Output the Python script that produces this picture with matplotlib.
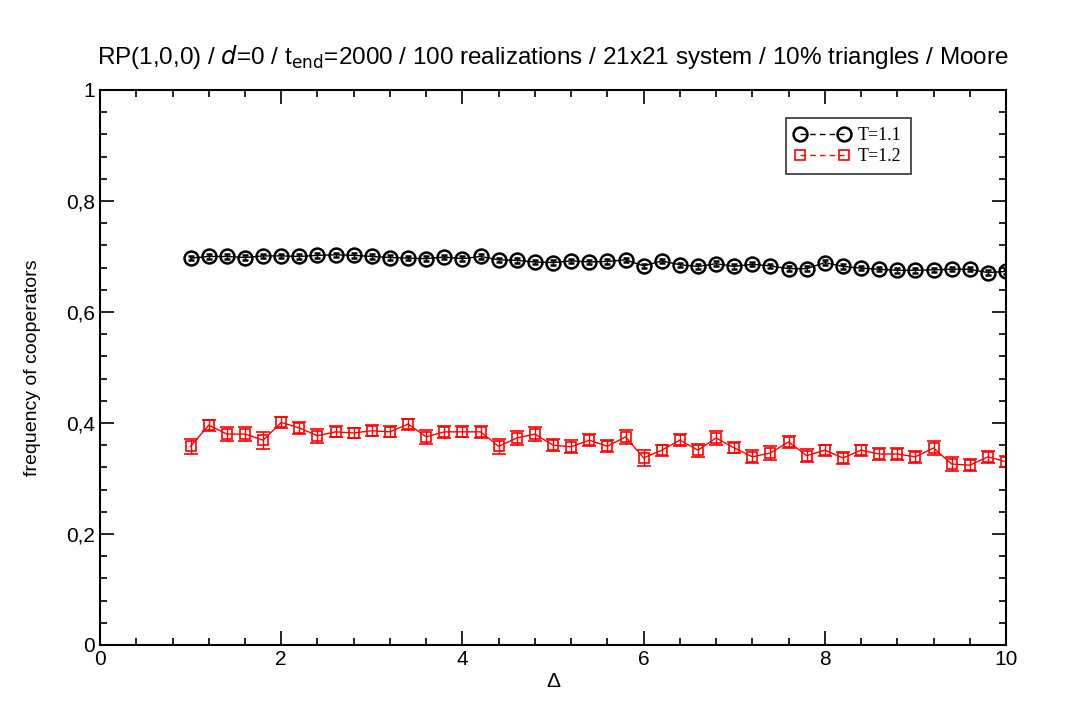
import numpy as np
import matplotlib.pyplot as plt
from matplotlib.lines import Line2D
from matplotlib.ticker import MultipleLocator, FuncFormatter

# Delta values, 1.0 .. 10.0 in steps of 0.2
delta = [1.0, 1.2, 1.4, 1.6, 1.8, 2.0, 2.2, 2.4, 2.6, 2.8,
         3.0, 3.2, 3.4, 3.6, 3.8, 4.0, 4.2, 4.4, 4.6, 4.8,
         5.0, 5.2, 5.4, 5.6, 5.8, 6.0, 6.2, 6.4, 6.6, 6.8,
         7.0, 7.2, 7.4, 7.6, 7.8, 8.0, 8.2, 8.4, 8.6, 8.8,
         9.0, 9.2, 9.4, 9.6, 9.8, 10.0]

# T=1.1
freq_t11 = [0.697, 0.700, 0.700, 0.698, 0.701, 0.701, 0.700, 0.702, 0.703, 0.702,
            0.700, 0.698, 0.697, 0.696, 0.699, 0.696, 0.700, 0.694, 0.693, 0.690,
            0.689, 0.692, 0.690, 0.691, 0.694, 0.683, 0.692, 0.685, 0.682, 0.687,
            0.682, 0.686, 0.683, 0.678, 0.678, 0.689, 0.682, 0.679, 0.677, 0.675,
            0.675, 0.676, 0.677, 0.677, 0.671, 0.673]
err_t11 = [0.004] * 46

# T=1.2
freq_t12 = [0.358, 0.396, 0.380, 0.380, 0.369, 0.401, 0.391, 0.377, 0.384, 0.382,
            0.386, 0.384, 0.398, 0.375, 0.384, 0.384, 0.384, 0.358, 0.373, 0.380,
            0.360, 0.357, 0.369, 0.358, 0.375, 0.337, 0.351, 0.369, 0.351, 0.373,
            0.355, 0.339, 0.346, 0.366, 0.341, 0.351, 0.337, 0.351, 0.344, 0.344,
            0.339, 0.355, 0.326, 0.324, 0.339, 0.330]
err_t12 = [0.014, 0.010, 0.012, 0.013, 0.015, 0.010, 0.011, 0.013, 0.010, 0.009,
           0.010, 0.010, 0.010, 0.012, 0.011, 0.010, 0.011, 0.014, 0.012, 0.013,
           0.011, 0.012, 0.011, 0.011, 0.012, 0.014, 0.010, 0.011, 0.012, 0.013,
           0.010, 0.012, 0.013, 0.011, 0.012, 0.010, 0.011, 0.010, 0.011, 0.011,
           0.011, 0.012, 0.012, 0.011, 0.011, 0.010]

plt.rcParams['font.family'] = ['Liberation Sans', 'DejaVu Sans']

fig = plt.figure(figsize=(10.85, 7.18), dpi=100)
ax = fig.add_axes([0.0922, 0.1017, 0.835, 0.773])

ax.errorbar(delta, freq_t11, yerr=err_t11, color='black', marker='o', ms=10,
            mfc='none', mew=1.8, lw=1.0, capsize=2.5, elinewidth=1.0)
ax.errorbar(delta, freq_t12, yerr=err_t12, color='red', marker='s', ms=7,
            mfc='none', mew=1.2, lw=1.0, capsize=5, elinewidth=1.0)

ax.set_xlim(0, 10)
ax.set_ylim(0, 1)
ax.xaxis.set_major_locator(MultipleLocator(2))
ax.xaxis.set_minor_locator(MultipleLocator(0.4))
ax.yaxis.set_major_locator(MultipleLocator(0.2))
ax.yaxis.set_minor_locator(MultipleLocator(0.04))
ax.yaxis.set_major_formatter(FuncFormatter(
    lambda v, p: '0' if abs(v) < 1e-9 else ('1' if abs(v - 1) < 1e-9 else ('%.1f' % v).replace('.', ','))))
ax.tick_params(which='both', direction='in', top=True, right=True, width=1.2)
ax.tick_params(which='major', length=10, labelsize=15)
ax.tick_params(which='minor', length=5)
for s in ax.spines.values():
    s.set_linewidth(1.5)

ax.set_xlabel('Δ', fontsize=15, labelpad=2)
ax.set_ylabel('frequency of cooperators', fontsize=14, labelpad=18)
ax.set_title('RP(1,0,0) / $d$=0 / t$_{\\mathrm{end}}$=2000 / 100 realizations / 21x21 system / 10% triangles / Moore',
             fontsize=17.5, pad=19)

handles = [Line2D([], [], color='black', marker='o', ms=10, mfc='none', mew=1.8,
                  lw=1.0, ls=(0, (4, 3))),
           Line2D([], [], color='red', marker='s', ms=7, mfc='none', mew=1.2,
                  lw=1.0, ls=(0, (4, 3)))]
leg = ax.legend(handles, ['T=1.1', 'T=1.2'], loc='upper right',
                bbox_to_anchor=(0.905, 0.965), numpoints=2,
                handlelength=3.0, fancybox=False, edgecolor='black',
                prop={'family': 'Liberation Serif', 'size': 13},
                borderpad=0.5, labelspacing=0.2, handletextpad=0.5)
leg.get_frame().set_linewidth(1.2)

fig.savefig('out.png', dpi=100)
